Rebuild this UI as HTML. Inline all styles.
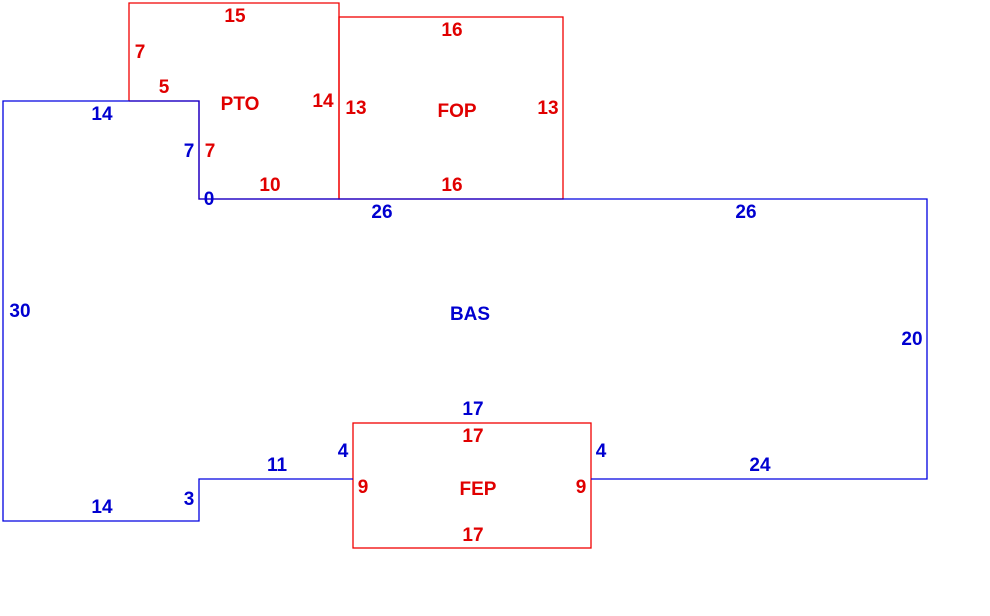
<!DOCTYPE html>
<html><head><meta charset="utf-8"><style>
html,body{margin:0;padding:0;background:#fff;width:990px;height:616px;overflow:hidden}
text{font-family:"Liberation Sans",Arial,sans-serif;font-weight:bold;font-size:19px}
.r{fill:#e00000}.b{fill:#0000d0}
</style></head><body>
<svg width="990" height="616" xmlns="http://www.w3.org/2000/svg">
<g fill="none" stroke="#f00000" stroke-width="1.3">
<polyline points="129,101 129,3 339,3 339,199 199,199 199,101 129,101"/>
<rect x="339" y="17" width="224" height="182"/>
<rect x="353" y="423" width="238" height="125"/>
</g>
<g fill="none" stroke="#0000e0" stroke-width="1.3">
<polyline points="353,479 199,479 199,521 3,521 3,101 199,101 199,199 927,199 927,479 591,479"/>
</g>
<g class="r" text-anchor="middle">
<text x="235" y="22">15</text>
<text x="140" y="58">7</text>
<text x="164" y="93">5</text>
<text x="240" y="110">PTO</text>
<text x="323" y="107">14</text>
<text x="210" y="157">7</text>
<text x="270" y="191">10</text>
<text x="452" y="36">16</text>
<text x="356" y="114">13</text>
<text x="457" y="117">FOP</text>
<text x="548" y="114">13</text>
<text x="452" y="191">16</text>
<text x="473" y="442">17</text>
<text x="363" y="493">9</text>
<text x="478" y="495">FEP</text>
<text x="581" y="493">9</text>
<text x="473" y="541">17</text>
</g>
<g class="b" text-anchor="middle">
<text x="102" y="120">14</text>
<text x="189" y="157">7</text>
<text x="209" y="205">0</text>
<text x="382" y="218">26</text>
<text x="746" y="218">26</text>
<text x="20" y="317">30</text>
<text x="470" y="320">BAS</text>
<text x="912" y="345">20</text>
<text x="473" y="415">17</text>
<text x="343" y="457">4</text>
<text x="601" y="457">4</text>
<text x="277" y="471">11</text>
<text x="760" y="471">24</text>
<text x="189" y="505">3</text>
<text x="102" y="513">14</text>
</g>
</svg>
</body></html>
